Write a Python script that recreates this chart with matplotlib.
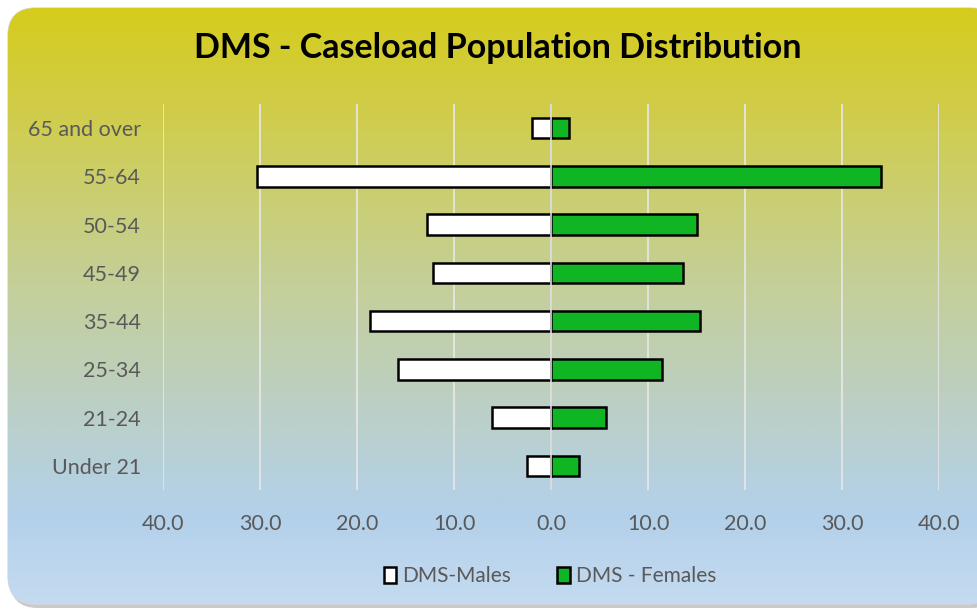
import numpy as np
import matplotlib.pyplot as plt
from matplotlib.patches import FancyBboxPatch, Patch
from matplotlib.colors import LinearSegmentedColormap

plt.rcParams['font.family'] = ['Lato', 'DejaVu Sans']

groups = ["Under 21", "21-24", "25-34", "35-44", "45-49", "50-54", "55-64", "65 and over"]
males = [2.5, 6.1, 15.8, 18.7, 12.2, 12.8, 30.3, 2.0]
females = [2.9, 5.7, 11.4, 15.4, 13.6, 15.1, 34.0, 1.9]
ticks = [-40, -30, -20, -10, 0, 10, 20, 30, 40]
tick_labels = ["40.0", "30.0", "20.0", "10.0", "0.0", "10.0", "20.0", "30.0", "40.0"]

fig = plt.figure(figsize=(9.77, 6.09), dpi=100)
fig.patch.set_facecolor("white")

# background panel with gradient
bg = fig.add_axes([0, 0, 1, 1], zorder=0)
bg.set_xlim(0, 977)
bg.set_ylim(609, 0)
bg.axis("off")
cmap = LinearSegmentedColormap.from_list("bg", [
    (0.0, "#d6cc1c"), (0.2, "#cfcd52"), (0.45, "#c5cf96"),
    (0.7, "#bad0cc"), (0.85, "#b3d0ea"), (1.0, "#c4dbf0")])
grad = np.linspace(0, 1, 256).reshape(-1, 1)
shadow = FancyBboxPatch((10, 12), 990, 596, boxstyle="round,pad=0,rounding_size=28",
                        facecolor="#a8a8a8", edgecolor="none", alpha=0.6)
bg.add_patch(shadow)
panel = FancyBboxPatch((8, 8), 990, 596, boxstyle="round,pad=0,rounding_size=28",
                       facecolor="none", edgecolor="#d9d9d9", linewidth=1)
bg.add_patch(panel)
im = bg.imshow(grad, cmap=cmap, aspect="auto", extent=(8, 998, 604, 8), zorder=1)
im.set_clip_path(panel)

ax = fig.add_axes([163 / 977, 1 - 490 / 609, (939 - 163) / 977, (490 - 104) / 609], zorder=2)
ax.patch.set_alpha(0)
y = np.arange(len(groups))
ax.barh(y, [-m for m in males], height=0.42, color="white", edgecolor="black", linewidth=1.8,
        label="DMS-Males", zorder=3)
ax.barh(y, females, height=0.42, color="#0fb523", edgecolor="black", linewidth=1.8,
        label="DMS - Females", zorder=3)
ax.axvline(0, color="#d9d9d9", linewidth=1.2, zorder=4)
ax.set_xlim(-40, 40)
ax.set_ylim(-0.5, len(groups) - 0.5)
ax.set_xticks(ticks)
ax.set_xticklabels(tick_labels)
ax.set_yticks(y)
ax.set_yticklabels(groups)
ax.grid(axis="x", color="#e8e8e8", linewidth=1.2, zorder=0)
ax.tick_params(length=0, labelsize=15.5, colors="#595959")
ax.tick_params(axis="y", pad=16)
ax.tick_params(axis="x", pad=17)
for s in ax.spines.values():
    s.set_visible(False)

fig.text(498 / 977, 1 - 48 / 609, "DMS - Caseload Population Distribution", ha="center", va="center",
         fontsize=24.5, fontweight="bold", color="black")

handles = [Patch(facecolor="white", edgecolor="black", linewidth=1.8, label="DMS-Males"),
           Patch(facecolor="#0fb523", edgecolor="black", linewidth=1.8, label="DMS - Females")]
fig.legend(handles=handles, loc="center", bbox_to_anchor=(550 / 977, 1 - 576 / 609), ncol=2,
           frameon=False, fontsize=15, labelcolor="#595959", handlelength=0.6, handleheight=0.8,
           handletextpad=0.3, columnspacing=2.2)

fig.savefig("out.png", dpi=100)
